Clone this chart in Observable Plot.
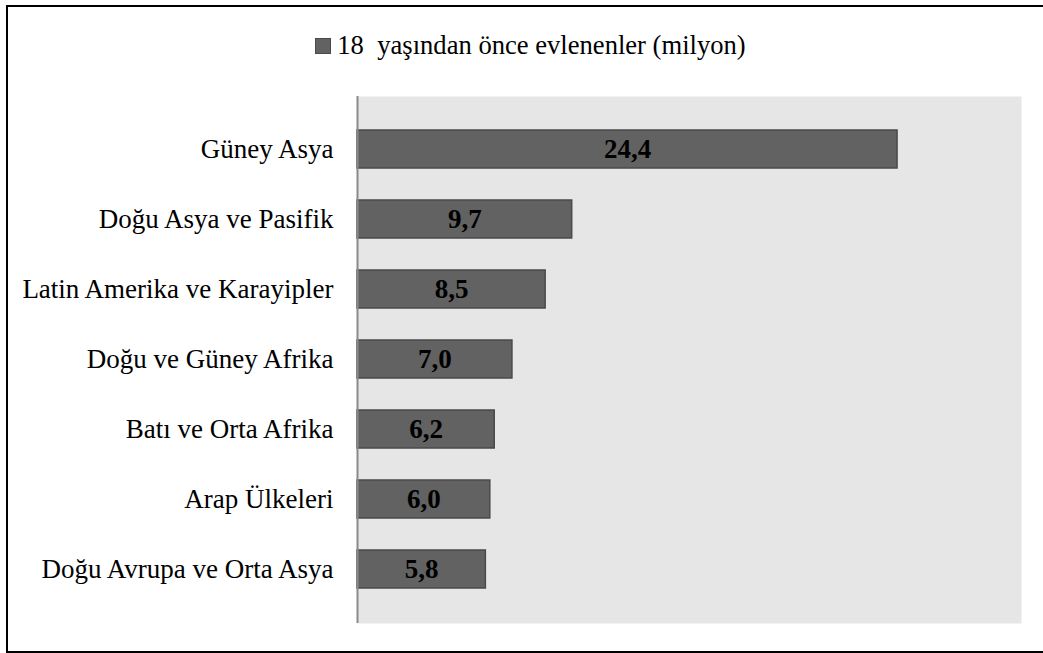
<!DOCTYPE html>
<html>
<head>
<meta charset="utf-8">
<script src="https://cdn.jsdelivr.net/npm/d3@7"></script>
<script src="https://cdn.jsdelivr.net/npm/@observablehq/plot@0.6"></script>
<style>
  html, body { margin: 0; padding: 0; background: #fff; overflow: hidden; width: 1043px; height: 653px; }
  body { position: relative; font-family: "Times New Roman", "Liberation Serif", Tinos, "DejaVu Serif", serif; }
  #frame { position: absolute; left: 6px; top: 5px; width: 1100px; height: 644px;
           border-left: 2px solid #000; border-top: 2px solid #000; border-bottom: 2px solid #000; }
  #legend { position: absolute; top: 29px; left: 9px; width: 1043px; height: 32px;
            display: flex; align-items: center; justify-content: center; font-size: 26.6px; color: #000; white-space: pre; }
  #legend .sw { display: inline-block; width: 14px; height: 14px; background: #626262; border: 1px solid #4a4a4a; margin-right: 6px; margin-top: 2px; }
  #chart { position: absolute; left: 0; top: 80px; }
  #chart svg, #chart svg text { font-family: "Times New Roman", "Liberation Serif", Tinos, "DejaVu Serif", serif; }
</style>
</head>
<body>
<div id="frame"></div>
<div id="legend"></div>
<div id="chart"></div>
<script>
const categories = [
  "Güney Asya",
  "Doğu Asya ve Pasifik",
  "Latin Amerika ve Karayipler",
  "Doğu ve Güney Afrika",
  "Batı ve Orta Afrika",
  "Arap Ülkeleri",
  "Doğu Avrupa ve Orta Asya"
];
const values = [24.4, 9.7, 8.5, 7.0, 6.2, 6.0, 5.8];
const seriesName = "18  yaşından önce evlenenler (milyon)";

const data = categories.map((c, i) => ({category: c, value: values[i]}));
const fmt = v => v.toFixed(1).replace(".", ",");

const legend = document.getElementById("legend");
legend.innerHTML = `<span class="sw"></span><span>${seriesName}</span>`;

const serif = "'Times New Roman', 'Liberation Serif', Tinos, 'DejaVu Serif', serif";
const chart = Plot.plot({
  width: 1043,
  height: 573,
  marginLeft: 357,
  marginRight: 22,
  marginTop: 16,
  marginBottom: 30,
  style: {fontFamily: serif, background: "transparent", color: "#000"},
  x: {domain: [0, 30], axis: null},
  y: {domain: categories, padding: 0.455, label: null},
  marks: [
    Plot.frame({fill: "#e6e6e6", stroke: null}),
    Plot.barX(data, {x: "value", y: "category", fill: "#626262", stroke: "#4a4a4a", strokeWidth: 1.5}),
    Plot.ruleX([0], {stroke: "#8a8a8a", strokeWidth: 2}),
    Plot.axisY({tickSize: 0, tickPadding: 24, fontSize: 27, label: null, fill: "#000"}),
    Plot.text(data, {x: d => d.value / 2, y: "category", text: d => fmt(d.value), fontSize: 27, fontWeight: "bold", fill: "#000"})
  ]
});
document.getElementById("chart").appendChild(chart);
</script>
</body>
</html>
